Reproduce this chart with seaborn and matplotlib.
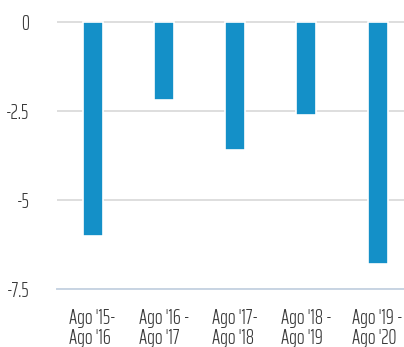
import matplotlib
matplotlib.use("Agg")
import matplotlib.pyplot as plt
from matplotlib import font_manager
import seaborn as sns
import pandas as pd

periods = ["Ago '15-\nAgo '16", "Ago '16 -\nAgo '17", "Ago '17-\nAgo '18",
           "Ago '18 -\nAgo '19", "Ago '19 -\nAgo '20"]
values = [-6.0, -2.2, -3.6, -2.6, -6.8]
y_ticks = [0, -2.5, -5, -7.5]
y_tick_labels = ["0", "-2.5", "-5", "-7.5"]

sns.set_theme(style="white")
names = {f.name for f in font_manager.fontManager.ttflist}
family = next((n for n in ["Saira ExtraCondensed", "Barlow Condensed", "Roboto Condensed"]
               if n in names), "DejaVu Sans")
plt.rcParams["font.family"] = [family, "DejaVu Sans"]
plt.rcParams["font.weight"] = 300

df = pd.DataFrame({"period": periods, "value": values})

fig = plt.figure(figsize=(4.04, 3.47), dpi=100)
ax = fig.add_axes([57 / 404, 1 - 289 / 347, (404 - 57) / 404, (289 - 17) / 347])

sns.barplot(data=df, x="period", y="value", color="#1490c8", saturation=1,
            width=0.28, edgecolor="white", linewidth=1.2, ax=ax, zorder=3)

ax.set_xlim(-0.5, 4.37)
ax.set_ylim(-7.5, 0.14)
ax.set_yticks(y_ticks)
ax.set_yticklabels(y_tick_labels)
ax.yaxis.grid(True, color="#dedede", linewidth=1.4, zorder=0)
ax.set_axisbelow(True)
ax.set_xlabel("")
ax.set_ylabel("")
for s in ["top", "right", "left"]:
    ax.spines[s].set_visible(False)
ax.spines["bottom"].set_color("#c8d4e3")
ax.spines["bottom"].set_linewidth(1.4)
ax.tick_params(axis="both", length=0, labelsize=14.5, colors="#3a3a3a")
ax.tick_params(axis="y", pad=20)
ax.tick_params(axis="x", pad=14)
for lbl in ax.get_xticklabels():
    lbl.set_linespacing(1.0)
    lbl.set_multialignment("left")

fig.savefig("out.png", dpi=100)
